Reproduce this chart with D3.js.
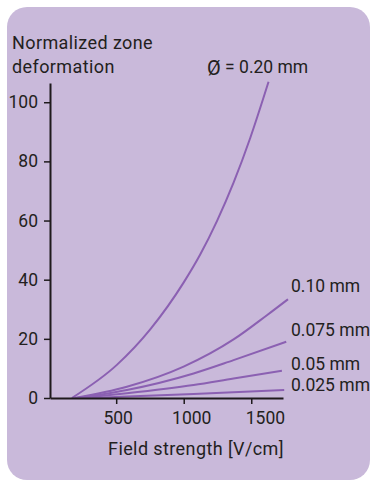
<!DOCTYPE html>
<html>
<head>
<meta charset="utf-8">
<script src="https://cdn.jsdelivr.net/npm/d3@7"></script>
<style>
  html, body { margin: 0; padding: 0; background: #ffffff; }
  svg { display: block; }
  text { font-family: Roboto, "Liberation Sans", sans-serif; fill: #231f20; }
</style>
</head>
<body>
<svg id="chart" width="370" height="487"></svg>
<script>
// Zone deformation vs. field strength, one curve per capillary diameter
const diameters = ["0.20", "0.10", "0.075", "0.05", "0.025"];

const field020 = [172, 505, 752, 999, 1122, 1246, 1369, 1493, 1628];
const zone020  = [0, 11.2, 23.2, 39.0, 48.5, 59.8, 72.8, 88.0, 106.9];

const field010 = [190, 579, 999, 1369, 1616, 1772];
const zone010  = [0, 3.8, 10.6, 19.8, 28.0, 33.4];

const field0075 = [210, 579, 1073, 1369, 1759];
const zone0075  = [0, 2.7, 8.3, 12.8, 19.0];

const field005 = [240, 579, 1073, 1369, 1727];
const zone005  = [0, 1.6, 4.4, 6.6, 9.2];

const field0025 = [320, 579, 1073, 1744];
const zone0025  = [0, 0.5, 1.35, 2.7];

const xTicks = [500, 1000, 1500];
const yTicks = [0, 20, 40, 60, 80, 100];

const yTitle = ["Normalized zone", "deformation"];
const xTitle = "Field strength [V/cm]";

const series = [
  { d: diameters[0], field: field020,  zone: zone020  },
  { d: diameters[1], field: field010,  zone: zone010  },
  { d: diameters[2], field: field0075, zone: zone0075 },
  { d: diameters[3], field: field005,  zone: zone005  },
  { d: diameters[4], field: field0025, zone: zone0025 }
];

const svg = d3.select("#chart");
const lineColor = "#8b60b2";
const inkColor = "#1e1a1c";

// lavender panel
svg.append("rect")
  .attr("x", 7).attr("y", 7)
  .attr("width", 363).attr("height", 473)
  .attr("rx", 20).attr("ry", 20)
  .attr("fill", "#c9b9da");

const x = d3.scaleLinear().domain([10, 1735]).range([50, 283]);
const y = d3.scaleLinear().domain([0, 106.5]).range([398, 83]);

// curves
const line = d3.line()
  .x(p => x(p[0]))
  .y(p => y(p[1]))
  .curve(d3.curveMonotoneX);

svg.append("g")
  .selectAll("path")
  .data(series)
  .join("path")
  .attr("d", s => line(s.field.map((f, i) => [f, s.zone[i]])))
  .attr("fill", "none")
  .attr("stroke", lineColor)
  .attr("stroke-width", 2)
  .attr("stroke-linecap", "butt");

// y axis
const yAxis = svg.append("g")
  .attr("transform", `translate(${x.range()[0]},0)`)
  .call(d3.axisLeft(y).tickValues(yTicks).tickSize(6).tickPadding(6).tickSizeOuter(0));
yAxis.select(".domain").attr("stroke", inkColor).attr("stroke-width", 2);
yAxis.selectAll(".tick line").attr("stroke", inkColor).attr("stroke-width", 1.5);
yAxis.selectAll(".tick text")
  .attr("font-size", 17.5)
  .attr("font-family", "Roboto, sans-serif")
  .attr("fill", inkColor);

// x axis
const xAxis = svg.append("g")
  .attr("transform", `translate(0,${y(0)})`)
  .call(d3.axisBottom(x).tickValues(xTicks).tickFormat(d3.format("d"))
    .tickSize(6).tickPadding(8).tickSizeOuter(0));
xAxis.select(".domain").attr("stroke", inkColor).attr("stroke-width", 2);
xAxis.selectAll(".tick line").attr("stroke", inkColor).attr("stroke-width", 1.5);
xAxis.selectAll(".tick text")
  .attr("font-size", 17.5)
  .attr("font-family", "Roboto, sans-serif")
  .attr("fill", inkColor)
  // numbers drift right toward the end of the axis
  .attr("dx", v => 0.09 * (x(v) - 100));

// axis titles
svg.append("text")
  .attr("x", 12).attr("y", 49)
  .attr("font-size", 18).attr("letter-spacing", 0.4)
  .text(yTitle[0]);
svg.append("text")
  .attr("x", 12).attr("y", 73)
  .attr("font-size", 18).attr("letter-spacing", 0.4)
  .text(yTitle[1]);
svg.append("text")
  .attr("x", 196).attr("y", 455)
  .attr("text-anchor", "middle")
  .attr("font-size", 18).attr("letter-spacing", 0.4)
  .text(xTitle);

// diameter labels
const topLabel = svg.append("text")
  .attr("x", 207).attr("y", 73)
  .attr("font-size", 17.5);
topLabel.append("tspan")
  .attr("font-size", 20).attr("dy", 1.5)
  .text("Ø");
topLabel.append("tspan")
  .attr("dy", -1.5)
  .text(` = ${diameters[0]} mm`);

const labelShift = [0, -7.5, -6, -0.5, 0.7];
svg.append("g")
  .selectAll("text")
  .data(series.slice(1))
  .join("text")
  .attr("x", 291)
  .attr("y", (s, i) => y(s.zone[s.zone.length - 1]) + labelShift[i + 1])
  .attr("font-size", 17.5)
  .text(s => `${s.d} mm`);
</script>
</body>
</html>
